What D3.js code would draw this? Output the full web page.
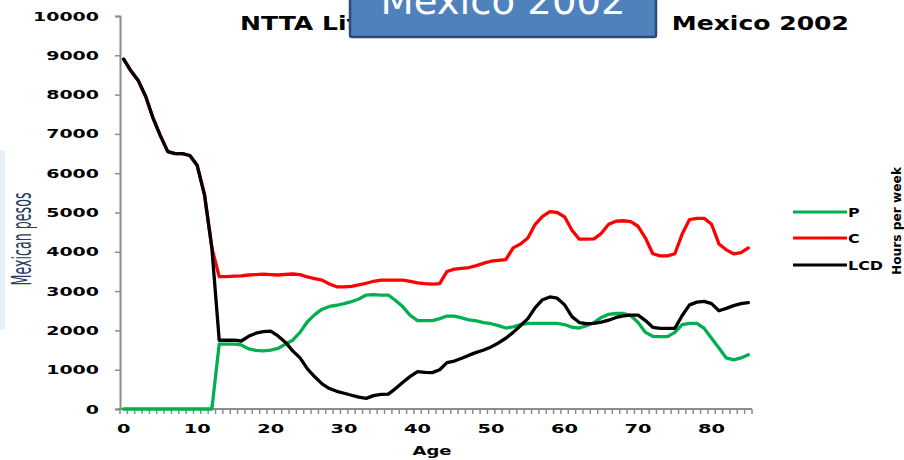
<!DOCTYPE html>
<html>
<head>
<meta charset="utf-8">
<script src="https://cdn.jsdelivr.net/npm/d3@7"></script>
<style>
  html, body { margin: 0; padding: 0; background: #fff; }
  svg { display: block; }
  text { font-family: "DejaVu Sans", sans-serif; }
</style>
</head>
<body>
<svg id="chart" width="904" height="460"></svg>
<script>
// ---- data ----
const ages = d3.range(0, 86);
const seriesNames = ["P", "C", "LCD"];
const P = [0,0,0,0,0,0,0,0,0,0,0,0,0,
  1650,1650,1650,1630,1530,1490,1480,1500,1540,1650,1750,1950,2220,2400,2540,2610,2640,2680,
  2730,2800,2900,2910,2900,2900,2760,2600,2380,2250,2250,2250,2300,2365,2365,2320,2265,2240,2200,2170,
  2120,2060,2090,2150,2180,2180,2180,2180,2180,2150,2080,2060,2120,2200,2330,2410,2430,2430,2380,2200,
  1950,1850,1840,1840,1950,2150,2180,2180,2050,1800,1550,1300,1250,1300,1380];
const C = [8900,8600,8350,7950,7400,6950,6550,6500,6500,6450,6200,5450,4100,
  3370,3370,3380,3390,3410,3420,3430,3420,3410,3425,3435,3420,3360,3320,3280,3180,3110,3110,
  3120,3160,3200,3250,3280,3280,3280,3280,3250,3210,3190,3180,3190,3500,3560,3580,3600,3650,3710,3760,
  3780,3800,4100,4200,4350,4700,4900,5020,5000,4890,4550,4320,4320,4330,4470,4700,4780,4790,4770,4650,
  4350,3950,3895,3895,3950,4450,4820,4850,4850,4700,4200,4050,3950,3980,4100];
const LCD = [8900,8600,8350,7950,7400,6950,6550,6500,6500,6450,6200,5450,4100,
  1750,1750,1750,1730,1850,1930,1970,1980,1860,1700,1480,1300,1020,820,640,520,450,400,
  350,300,270,340,370,380,520,680,830,950,930,925,1000,1180,1220,1290,1370,1440,1500,1580,
  1680,1800,1950,2120,2300,2580,2780,2850,2820,2650,2350,2200,2170,2180,2210,2260,2330,2370,2390,2390,
  2250,2080,2050,2050,2050,2380,2650,2720,2740,2680,2500,2560,2630,2680,2705];
const yTicks = d3.range(0, 10001, 1000);
const xTickLabels = [0, 10, 20, 30, 40, 50, 60, 70, 80];
const titleLeft = "NTTA Life";
const titleRight = "Mexico 2002";
const boxTitle = "Mexico 2002";
const xLabel = "Age";
const yLabel = "Mexican pesos";
const y2Label = "Hours per week";

// ---- layout ----
const svg = d3.select("#chart");
const colors = { P: "#00b050", C: "#ff0000", LCD: "#000000" };
const seriesData = { P: P, C: C, LCD: LCD };

const x = d3.scaleBand().domain(ages).range([120, 752]).paddingInner(0).paddingOuter(0);
const xc = a => x(a) + x.bandwidth() / 2;
const y = d3.scaleLinear().domain([0, 10000]).range([409, 16]);

const axisColor = "#8c8c8c";

// faint slide background strip at the left edge
svg.append("rect").attr("x", 0).attr("y", 150).attr("width", 5).attr("height", 180)
  .attr("fill", "#e6eef7");

// y axis
const gy = svg.append("g").attr("transform", "translate(120,0)")
  .call(d3.axisLeft(y).tickValues(yTicks).tickSize(5).tickPadding(16).tickFormat(d3.format("d")));
gy.select(".domain").attr("stroke", axisColor).attr("stroke-width", 2);
gy.selectAll(".tick line").attr("stroke", axisColor).attr("stroke-width", 1.5);
gy.selectAll(".tick text")
  .attr("fill", "#000").attr("font-weight", "bold").attr("font-size", 12.5)
  .attr("textLength", d => String(d).length * 13.2).attr("lengthAdjust", "spacingAndGlyphs");

// x axis (category axis with tick marks at category boundaries)
const gx = svg.append("g").attr("transform", "translate(0,409)");
gx.append("line").attr("x1", 118).attr("x2", x.range()[1]).attr("y1", 0).attr("y2", 0)
  .attr("stroke", axisColor).attr("stroke-width", 2);
gx.selectAll("line.mt").data(ages.concat([ages.length])).join("line").attr("class", "mt")
  .attr("x1", (d, i) => i < ages.length ? x(d) : x.range()[1])
  .attr("x2", (d, i) => i < ages.length ? x(d) : x.range()[1])
  .attr("y1", 0).attr("y2", 5).attr("stroke", axisColor).attr("stroke-width", 1.5);
gx.selectAll("text.xl").data(xTickLabels).join("text").attr("class", "xl")
  .attr("x", d => xc(d)).attr("y", 24).attr("text-anchor", "middle")
  .attr("font-weight", "bold").attr("font-size", 12.5)
  .attr("textLength", d => String(d).length * 13.5).attr("lengthAdjust", "spacingAndGlyphs")
  .text(d => d);

// lines
const line = d3.line().x((d, i) => xc(ages[i])).y(d => y(d)).curve(d3.curveLinear);
["C", "P", "LCD"].forEach(k => {
  svg.append("path").datum(seriesData[k])
    .attr("fill", "none").attr("stroke", colors[k]).attr("stroke-width", 3.3)
    .attr("stroke-linejoin", "round").attr("stroke-linecap", "round")
    .attr("d", line);
});

// axis labels
svg.append("text").attr("x", 432).attr("y", 455).attr("text-anchor", "middle")
  .attr("font-weight", "bold").attr("font-size", 13)
  .attr("textLength", 39).attr("lengthAdjust", "spacingAndGlyphs").text(xLabel);
svg.append("text").attr("transform", "translate(31,239) rotate(-90)")
  .attr("text-anchor", "middle").attr("font-family", "Liberation Sans, sans-serif")
  .attr("font-size", 26).attr("fill", "#263c5e")
  .attr("textLength", 93).attr("lengthAdjust", "spacingAndGlyphs").text(yLabel);
svg.append("text").attr("transform", "translate(901,221) rotate(-90)")
  .attr("text-anchor", "middle").attr("font-weight", "bold").attr("font-size", 12)
  .attr("textLength", 108).attr("lengthAdjust", "spacingAndGlyphs").text(y2Label);

// legend
const legY = { P: 212, C: 238, LCD: 265 };
const leg = svg.append("g");
seriesNames.forEach(k => {
  leg.append("line").attr("x1", 793).attr("x2", 847).attr("y1", legY[k]).attr("y2", legY[k])
    .attr("stroke", colors[k]).attr("stroke-width", 3);
  leg.append("text").attr("x", 848).attr("y", legY[k] + 4.5)
    .attr("font-weight", "bold").attr("font-size", 12)
    .attr("textLength", k.length * 11.7).attr("lengthAdjust", "spacingAndGlyphs").text(k);
});

// chart title
svg.append("text").attr("transform", "translate(240,30) scale(1.32,1)")
  .attr("font-weight", "bold").attr("font-size", 19).text(titleLeft);
svg.append("text").attr("transform", "translate(849,30) scale(1.32,1)")
  .attr("text-anchor", "end").attr("font-weight", "bold").attr("font-size", 19).text(titleRight);

// overlaid slide title box
svg.append("rect").attr("x", 350).attr("y", -20).attr("width", 306).attr("height", 57)
  .attr("rx", 2).attr("fill", "#4f81bd").attr("stroke", "#2c4a74").attr("stroke-width", 2.5);
svg.append("text").attr("x", 503).attr("y", 14).attr("text-anchor", "middle")
  .attr("font-family", "Open Sans, sans-serif").attr("font-size", 38).attr("fill", "#ffffff")
  .attr("textLength", 245).attr("lengthAdjust", "spacingAndGlyphs").text(boxTitle);
</script>
</body>
</html>
